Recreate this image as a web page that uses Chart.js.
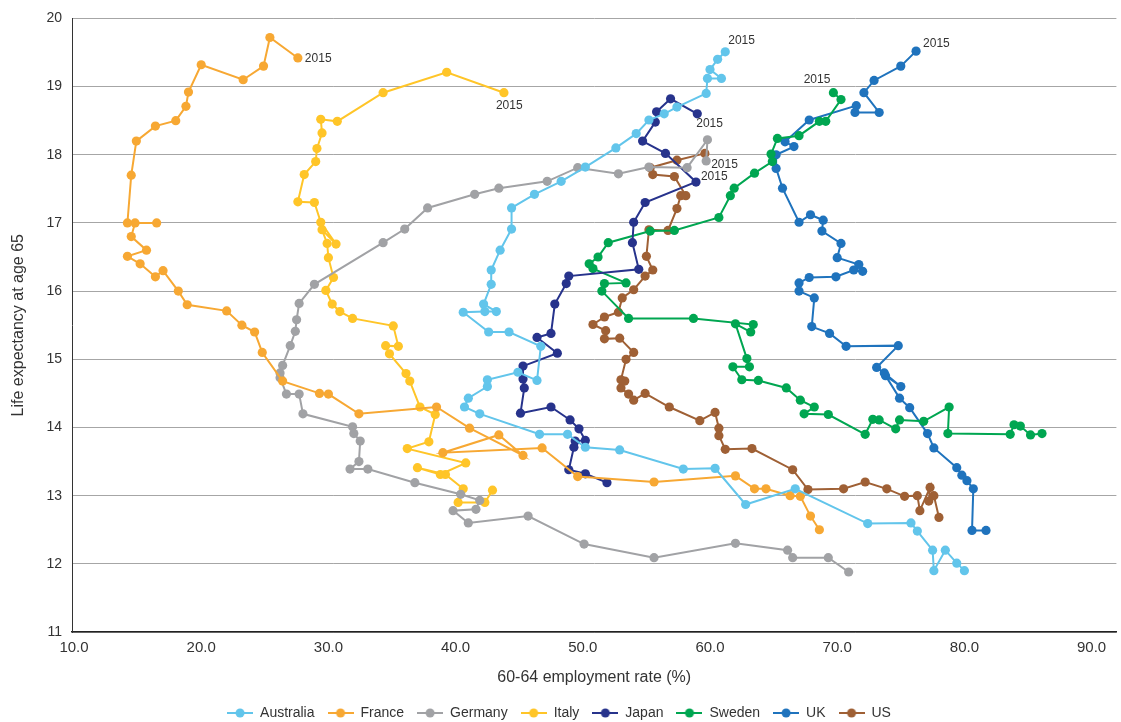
<!DOCTYPE html>
<html>
<head>
<meta charset="utf-8">
<title>Life expectancy at 65 vs 60-64 employment rate</title>
<script src="https://cdn.jsdelivr.net/npm/chart.js@4.4.1/dist/chart.umd.min.js"></script>
<style>
  html, body { margin: 0; padding: 0; background: #fff; }
  #wrap { width: 1121px; height: 722px; }
</style>
</head>
<body>
<div id="wrap"><canvas id="myChart" width="1121" height="722"></canvas></div>
<script>
// each country: x = 60-64 employment rate (%), y = life expectancy at 65, oldest first, last = 2015
const countries = ['Australia', 'France', 'Germany', 'Italy', 'Japan', 'Sweden', 'UK', 'US'];

const australiaX = [80.0, 79.4, 78.5, 77.6, 77.5, 76.3, 75.8, 72.4, 66.7, 62.8, 60.4, 57.9, 52.9, 50.2, 48.8, 46.6, 41.9, 40.7, 41.0, 42.5, 42.5, 44.9, 46.4, 46.7, 44.2, 42.6, 40.6, 42.3, 43.2, 42.2, 42.8, 42.8, 43.5, 44.4, 44.4, 46.2, 48.3, 50.2, 52.6, 54.2, 55.2, 56.4, 57.4, 59.7, 59.8, 60.9, 60.0, 60.6, 61.2];
const australiaY = [11.90, 12.01, 12.20, 11.90, 12.20, 12.48, 12.60, 12.59, 13.10, 12.87, 13.40, 13.39, 13.67, 13.71, 13.90, 13.90, 14.20, 14.30, 14.43, 14.60, 14.70, 14.81, 14.69, 15.19, 15.40, 15.40, 15.69, 15.70, 15.70, 15.81, 16.10, 16.31, 16.60, 16.91, 17.22, 17.42, 17.61, 17.82, 18.10, 18.31, 18.51, 18.60, 18.70, 18.90, 19.12, 19.12, 19.25, 19.40, 19.51];

const franceX = [68.6, 67.9, 67.1, 66.3, 64.4, 63.5, 62.0, 55.6, 49.6, 46.8, 39.0, 43.4, 45.3, 41.1, 38.5, 32.4, 30.0, 29.3, 26.4, 24.8, 24.2, 23.2, 22.0, 18.9, 18.2, 17.0, 16.4, 15.2, 14.2, 15.7, 14.5, 14.8, 16.5, 14.2, 14.5, 14.9, 16.4, 18.0, 18.8, 19.0, 20.0, 23.3, 24.9, 25.4, 27.6];
const franceY = [12.50, 12.70, 12.99, 13.00, 13.10, 13.10, 13.29, 13.20, 13.28, 13.70, 13.63, 13.89, 13.59, 13.99, 14.30, 14.20, 14.49, 14.50, 14.68, 15.10, 15.40, 15.50, 15.71, 15.80, 16.00, 16.30, 16.21, 16.40, 16.51, 16.60, 16.80, 17.00, 17.00, 17.00, 17.70, 18.20, 18.42, 18.50, 18.71, 18.92, 19.32, 19.10, 19.30, 19.72, 19.42];

const germanyX = [70.9, 69.3, 66.5, 66.1, 62.0, 55.6, 50.1, 45.7, 41.0, 39.8, 41.6, 41.9, 40.4, 36.8, 33.1, 31.7, 32.4, 32.5, 32.0, 31.9, 28.0, 27.7, 26.7, 26.2, 26.2, 26.4, 27.0, 27.4, 27.5, 27.7, 28.9, 34.3, 36.0, 37.8, 41.5, 43.4, 47.2, 49.6, 52.8, 55.2, 58.2, 59.8, 59.7];
const germanyY = [11.88, 12.09, 12.09, 12.20, 12.30, 12.09, 12.29, 12.70, 12.60, 12.78, 12.80, 12.93, 13.02, 13.19, 13.39, 13.39, 13.50, 13.80, 13.91, 14.01, 14.20, 14.49, 14.49, 14.73, 14.80, 14.91, 15.20, 15.41, 15.58, 15.82, 16.10, 16.71, 16.91, 17.22, 17.42, 17.51, 17.61, 17.81, 17.72, 17.82, 17.81, 18.22, 17.91];

const italyX = [42.9, 42.3, 40.2, 40.6, 39.2, 37.0, 38.8, 40.8, 36.2, 37.9, 38.4, 37.2, 36.4, 36.1, 34.8, 34.5, 35.5, 35.1, 31.9, 30.9, 30.3, 29.8, 30.4, 30.0, 29.9, 29.5, 30.6, 29.4, 28.9, 27.6, 28.1, 29.0, 29.1, 29.5, 29.4, 30.7, 34.3, 39.3, 43.8];
const italyY = [13.08, 12.90, 12.90, 13.10, 13.31, 13.41, 13.31, 13.48, 13.69, 13.79, 14.19, 14.30, 14.68, 14.79, 15.08, 15.20, 15.19, 15.49, 15.60, 15.70, 15.81, 16.01, 16.20, 16.49, 16.70, 16.90, 16.69, 17.01, 17.30, 17.31, 17.71, 17.90, 18.09, 18.32, 18.52, 18.49, 18.91, 19.21, 18.91];

const japanX = [51.9, 50.2, 48.9, 49.3, 49.4, 50.2, 49.7, 49.0, 47.5, 45.1, 45.4, 45.3, 45.3, 48.0, 46.4, 47.5, 47.8, 48.7, 48.9, 54.4, 53.9, 54.0, 54.9, 58.9, 56.5, 54.7, 55.7, 55.8, 56.9, 59.0];
const japanY = [13.19, 13.32, 13.38, 13.71, 13.80, 13.81, 13.98, 14.11, 14.30, 14.21, 14.58, 14.71, 14.90, 15.09, 15.32, 15.38, 15.81, 16.11, 16.22, 16.32, 16.71, 17.01, 17.30, 17.60, 18.02, 18.20, 18.48, 18.63, 18.82, 18.60];

const swedenX = [86.1, 85.2, 84.4, 83.9, 83.6, 78.7, 78.8, 76.8, 74.9, 74.6, 73.3, 72.8, 72.2, 69.3, 67.4, 68.2, 67.1, 66.0, 63.8, 62.5, 61.8, 63.1, 62.9, 62.0, 63.2, 63.4, 58.7, 53.6, 51.5, 51.7, 53.4, 50.8, 50.5, 51.2, 52.0, 55.3, 57.2, 60.7, 61.6, 61.9, 63.5, 64.9, 64.8, 65.3, 67.0, 68.6, 69.1, 70.3, 69.7];
const swedenY = [13.91, 13.89, 14.02, 14.04, 13.90, 13.91, 14.30, 14.09, 14.11, 13.98, 14.11, 14.12, 13.90, 14.19, 14.20, 14.30, 14.40, 14.58, 14.69, 14.70, 14.89, 14.89, 15.01, 15.52, 15.40, 15.51, 15.60, 15.60, 16.00, 16.11, 16.12, 16.33, 16.40, 16.50, 16.71, 16.88, 16.89, 17.08, 17.40, 17.51, 17.73, 17.90, 18.01, 18.24, 18.28, 18.49, 18.49, 18.81, 18.91];

const ukX = [81.7, 80.6, 80.7, 80.2, 79.8, 79.4, 77.6, 77.1, 75.7, 74.9, 73.8, 75.0, 73.7, 73.1, 74.8, 70.7, 69.4, 68.0, 68.2, 67.0, 67.0, 67.8, 69.9, 71.3, 72.0, 71.7, 70.0, 70.3, 68.8, 68.9, 67.9, 67.0, 65.7, 65.2, 65.2, 66.6, 65.9, 67.8, 71.5, 71.4, 73.3, 72.1, 72.9, 75.0, 76.2];
const ukY = [12.49, 12.49, 13.10, 13.22, 13.30, 13.41, 13.70, 13.91, 14.29, 14.43, 14.76, 14.60, 14.80, 14.88, 15.20, 15.19, 15.38, 15.48, 15.90, 16.00, 16.12, 16.20, 16.21, 16.31, 16.29, 16.39, 16.49, 16.70, 16.88, 17.04, 17.12, 17.01, 17.51, 17.80, 18.00, 18.12, 18.19, 18.51, 18.72, 18.62, 18.62, 18.91, 19.09, 19.30, 19.52];

const usX = [78.0, 77.6, 77.2, 77.3, 76.5, 76.3, 75.3, 73.9, 72.2, 70.5, 67.7, 66.5, 63.3, 61.2, 60.7, 60.7, 60.4, 59.2, 56.8, 54.9, 54.0, 53.6, 53.0, 53.3, 53.0, 53.4, 54.0, 52.9, 51.7, 51.8, 50.8, 51.7, 52.8, 53.1, 54.0, 54.9, 55.5, 55.0, 55.2, 56.7, 57.4, 57.7, 58.1, 57.2, 55.5, 55.3, 57.4, 59.6];
const usY = [12.68, 13.00, 12.92, 13.12, 12.78, 13.00, 12.99, 13.10, 13.20, 13.10, 13.09, 13.38, 13.69, 13.68, 13.88, 13.99, 14.22, 14.10, 14.30, 14.50, 14.40, 14.49, 14.58, 14.68, 14.70, 15.00, 15.10, 15.31, 15.30, 15.42, 15.51, 15.62, 15.69, 15.90, 16.02, 16.22, 16.31, 16.51, 16.90, 16.89, 17.21, 17.40, 17.40, 17.68, 17.71, 17.81, 17.92, 18.02];

const xTicks = [10, 20, 30, 40, 50, 60, 70, 80, 90];
const yTicks = [11, 12, 13, 14, 15, 16, 17, 18, 19, 20];
const endLabel = '2015';

const seriesX = [australiaX, franceX, germanyX, italyX, japanX, swedenX, ukX, usX];
const seriesY = [australiaY, franceY, germanyY, italyY, japanY, swedenY, ukY, usY];

const COLORS = ['#62C5EB', '#F7A833', '#A1A2A5', '#FFC528', '#27338C', '#00A651', '#1F73BD', '#9F6035'];
// offsets of the "2015" tag from the last point: dx, dy, align
const TAG_POS = [
  [3, -11, 'left'], [7, 1, 'left'], [5, 4, 'left'], [-8, 13, 'left'],
  [-1, 10, 'left'], [-3, -13, 'right'], [7, -7, 'left'], [-4, 23, 'left']
];
const FONT = '"Liberation Sans", Arial, sans-serif';

function legendMark(color) {
  const c = document.createElement('canvas');
  c.width = 26; c.height = 12;
  const g = c.getContext('2d');
  g.strokeStyle = color; g.lineWidth = 2;
  g.beginPath(); g.moveTo(0, 6); g.lineTo(26, 6); g.stroke();
  g.fillStyle = color;
  g.beginPath(); g.arc(13, 6, 4.5, 0, Math.PI * 2); g.fill();
  return c;
}

const datasets = countries.map((name, i) => ({
  label: name,
  data: seriesX[i].map((x, j) => ({ x: x, y: seriesY[i][j] })),
  showLine: true,
  borderColor: COLORS[i],
  backgroundColor: COLORS[i],
  borderWidth: 2,
  pointRadius: 4.6,
  pointBorderWidth: 0,
  pointHoverRadius: 4.6,
  tension: 0
}));

const endTags = {
  id: 'endTags',
  afterDatasetsDraw(chart) {
    const ctx = chart.ctx;
    ctx.save();
    ctx.font = '12px ' + FONT;
    ctx.fillStyle = '#333';
    ctx.textBaseline = 'middle';
    chart.data.datasets.forEach((ds, i) => {
      const meta = chart.getDatasetMeta(i);
      const pt = meta.data[meta.data.length - 1];
      const p = TAG_POS[i];
      ctx.textAlign = p[2];
      ctx.fillText(endLabel, pt.x + p[0], pt.y + p[1]);
    });
    ctx.restore();
  }
};

const ctx = document.getElementById('myChart');
const myChart = new Chart(ctx, {
  type: 'scatter',
  data: { datasets: datasets },
  plugins: [endTags],
  options: {
    responsive: false,
    animation: false,
    devicePixelRatio: 1,
    layout: { padding: { top: 12, right: 3, bottom: -8, left: 0 } },
    plugins: {
      tooltip: { enabled: false },
      legend: {
        position: 'bottom',
        labels: {
          usePointStyle: true,
          pointStyleWidth: 26,
          padding: 13,
          color: '#333',
          font: { family: FONT, size: 14 },
          generateLabels(chart) {
            return chart.data.datasets.map((ds, i) => ({
              text: ds.label,
              pointStyle: legendMark(COLORS[i]),
              fillStyle: COLORS[i],
              strokeStyle: COLORS[i],
              lineWidth: 0,
              hidden: false,
              fontColor: '#333',
              datasetIndex: i
            }));
          }
        }
      }
    },
    scales: {
      x: {
        type: 'linear',
        min: 9.843,
        max: 91.95,
        afterBuildTicks(scale) { scale.ticks = xTicks.map(v => ({ value: v })); },
        afterFit(scale) { scale.height = 61; },
        grid: { display: false, drawTicks: false },
        border: { display: true, color: '#222', width: 1.5 },
        ticks: {
          padding: 7,
          color: '#333',
          font: { family: FONT, size: 15 },
          callback: v => v.toFixed(1)
        },
        title: {
          display: true,
          text: '60-64 employment rate (%)',
          color: '#333',
          font: { family: FONT, size: 16 },
          padding: { top: 0, bottom: 6 }
        }
      },
      y: {
        type: 'linear',
        min: 11,
        max: 20,
        afterBuildTicks(scale) { scale.ticks = yTicks.map(v => ({ value: v })); },
        afterFit(scale) { scale.width = 72; },
        grid: { color: '#A6A6A6', lineWidth: 1, drawTicks: false },
        border: { display: true, color: '#333', width: 1 },
        ticks: {
          padding: 10,
          color: '#333',
          font: { family: FONT, size: 14 }
        },
        title: {
          display: true,
          text: 'Life expectancy at age 65',
          color: '#333',
          font: { family: FONT, size: 16 },
          padding: { top: 9, bottom: 0 }
        }
      }
    }
  }
});
</script>
</body>
</html>
